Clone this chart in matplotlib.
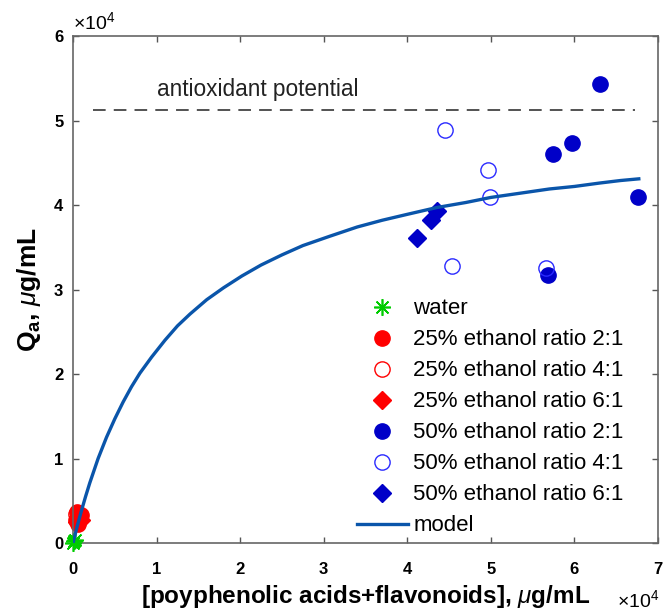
import matplotlib
matplotlib.use("Agg")
import matplotlib.pyplot as plt

plt.rcParams['font.family'] = ['Liberation Sans', 'DejaVu Sans']
plt.rcParams['mathtext.fontset'] = 'custom'
plt.rcParams['mathtext.rm'] = 'Liberation Sans'
plt.rcParams['mathtext.it'] = 'Liberation Sans:italic'
plt.rcParams['mathtext.bf'] = 'Liberation Sans:bold'

# values in units of 1e4 ug/mL
water_x = [0.00, 0.01, 0.02]
water_y = [0.00, 0.02, 0.04]

e25_r21_x = [0.05, 0.08, 0.03, 0.10, 0.06]
e25_r21_y = [0.37, 0.30, 0.27, 0.33, 0.22]
e25_r41_x = [0.07, 0.04]
e25_r41_y = [0.28, 0.34]
e25_r61_x = [0.05, 0.09]
e25_r61_y = [0.25, 0.27]

e50_r21_x = [6.30, 5.97, 5.74, 6.76, 5.68]
e50_r21_y = [5.43, 4.74, 4.60, 4.09, 3.17]
e50_r41_x = [4.45, 4.96, 4.99, 4.54, 5.66]
e50_r41_y = [4.89, 4.42, 4.09, 3.28, 3.26]
e50_r61_x = [4.12, 4.28, 4.35]
e50_r61_y = [3.61, 3.82, 3.93]

model_x = [0, 0.05, 0.1, 0.15, 0.2, 0.3, 0.4, 0.5, 0.6, 0.7, 0.8, 0.94, 1.1,
           1.25, 1.4, 1.6, 1.8, 2.02, 2.25, 2.5, 2.75, 3.07, 3.4, 3.7, 4.0,
           4.35, 4.7, 5.0, 5.35, 5.7, 6.0, 6.3, 6.55, 6.77]
model_y = [0, 0.20, 0.38, 0.55, 0.71, 1.00, 1.25, 1.47, 1.67, 1.85, 2.01, 2.20,
           2.40, 2.57, 2.71, 2.88, 3.02, 3.16, 3.29, 3.41, 3.52, 3.63, 3.74,
           3.82, 3.89, 3.97, 4.03, 4.09, 4.14, 4.19, 4.22, 4.26, 4.29, 4.31]

potential = 5.12

fig = plt.figure(figsize=(6.64, 6.11), dpi=100)
ax = fig.add_axes([0.110, 0.1113, 0.881, 0.8297])

blue = '#0000c8'
red = '#ff0000'
ms = 11

ax.plot([0.24, 6.73], [potential, potential], '--', color='#444444', lw=1.3, dashes=(7, 4.5))
ax.text(1.0, 5.37, 'antioxidant potential', fontsize=16.3, color='#222222', va='center')

ax.plot(water_x, water_y, ls='none', marker=(8, 2, 0), ms=ms + 1, mec='#00cc00', mew=1.2,
        label='water', zorder=5, clip_on=False)
ax.plot(e25_r21_x, e25_r21_y, 'o', color=red, ms=ms, label='25% ethanol ratio 2:1',
        clip_on=False)
ax.plot(e25_r41_x, e25_r41_y, 'o', mfc='none', mec=red, ms=ms, mew=1.0,
        label='25% ethanol ratio 4:1', clip_on=False)
ax.plot(e25_r61_x, e25_r61_y, 'D', color=red, ms=ms * 0.85, label='25% ethanol ratio 6:1',
        clip_on=False)
ax.plot(e50_r21_x, e50_r21_y, 'o', color=blue, ms=ms, label='50% ethanol ratio 2:1')
ax.plot(e50_r41_x, e50_r41_y, 'o', mfc='none', mec='#2a2aff', ms=ms, mew=1.0,
        label='50% ethanol ratio 4:1')
ax.plot(e50_r61_x, e50_r61_y, 'D', color=blue, ms=ms * 0.85, label='50% ethanol ratio 6:1')
ax.plot(model_x, model_y, '-', color='#0a55aa', lw=2.4, label='model', zorder=6)

ax.set_xlim(0, 7)
ax.set_ylim(0, 6)
ax.set_xticks(range(8))
ax.set_yticks(range(7))
ax.tick_params(direction='in', top=True, right=True, length=4, width=1,
               color='#555555', labelsize=12)
ax.tick_params(axis='x', pad=14)
ax.tick_params(axis='y', pad=7)
for lab in ax.get_xticklabels() + ax.get_yticklabels():
    lab.set_fontweight('bold')
for s in ax.spines.values():
    s.set_color('#666666')
    s.set_linewidth(1.2)

ax.set_xlabel('[poyphenolic acids+flavonoids], $\\mu$g/mL', fontsize=17.5,
              fontweight='bold', labelpad=4)
ax.set_ylabel('Q$_{\\mathbf{a}}$, $\\mu$g/mL', fontsize=19, fontweight='bold', labelpad=8)

ax.text(0.0, 6.03, '$\\times$10$^{4}$', fontsize=14, ha='left', va='bottom')
ax.text(6.51, -0.675, '$\\times$10$^{4}$', fontsize=14, ha='left', va='center',
        clip_on=False)

ax.legend(loc='lower left', bbox_to_anchor=(0.485, 0.013), frameon=False, fontsize=16,
          handlelength=2.3, handletextpad=0.25, labelspacing=0.45, borderaxespad=0,
          borderpad=0)

fig.savefig('out.png', dpi=100)
